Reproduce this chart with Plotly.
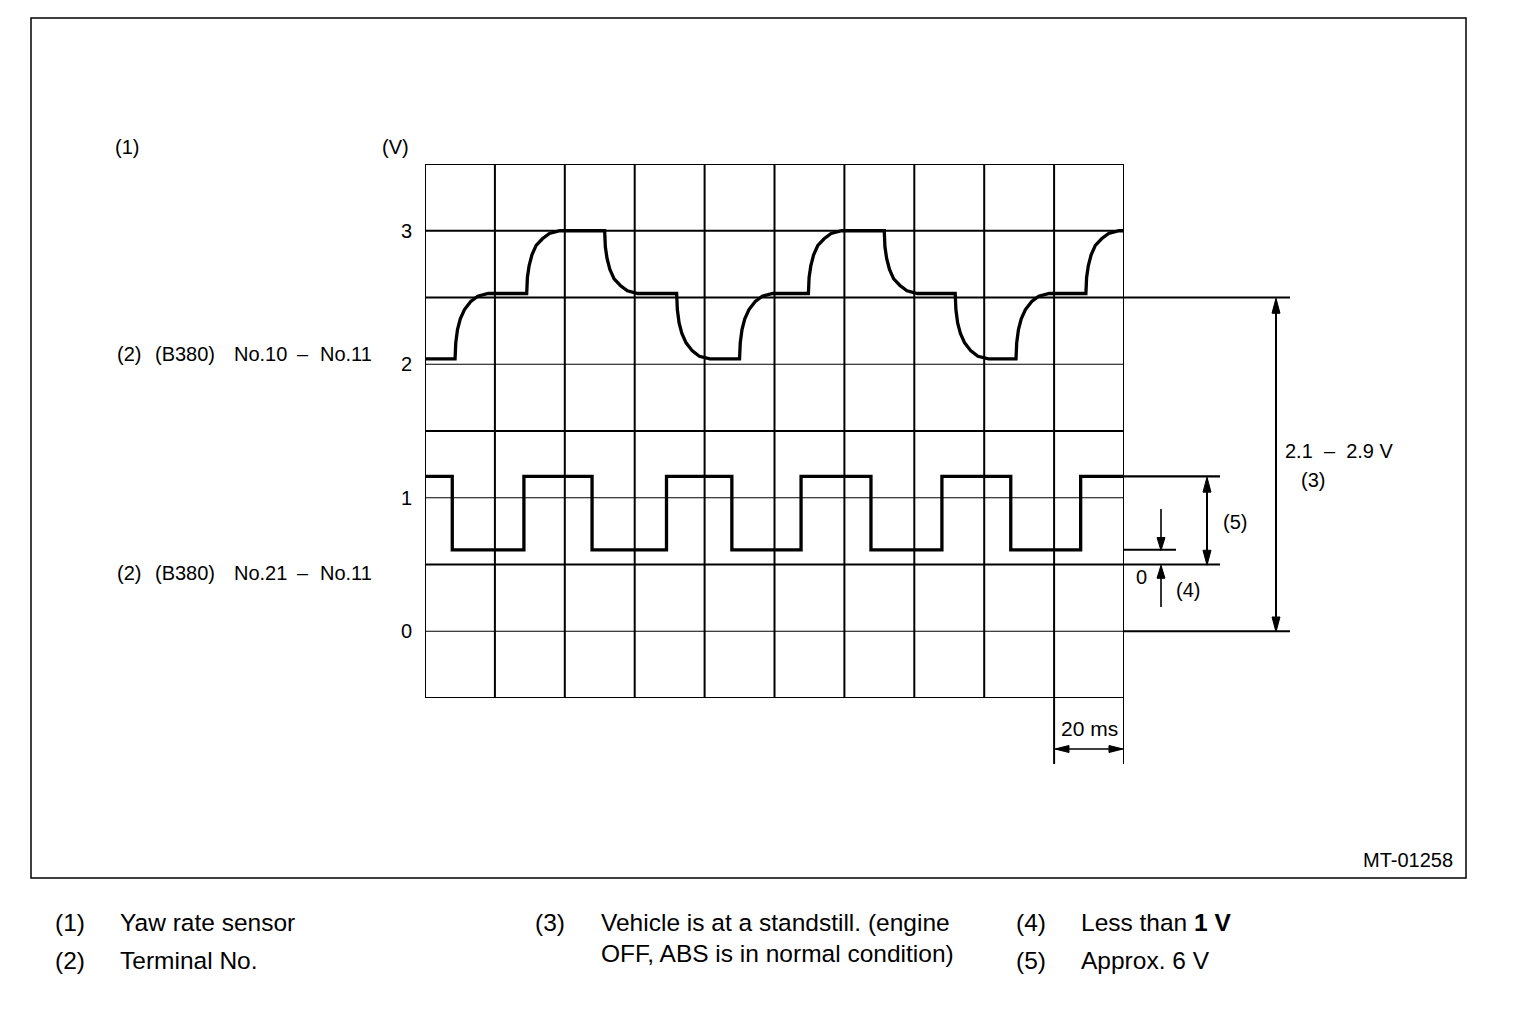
import plotly.graph_objects as go

# ---------------- data ----------------
# time axis: 20 ms per division, 10 divisions
x_ticks = [0, 20, 40, 60, 80, 100, 120, 140, 160, 180, 200]
y_grid = [-0.5, 0, 0.5, 1, 1.5, 2, 2.5, 3, 3.5]
y_thin = [0, 1, 2]
y_tickvals = [0, 1, 2, 3]
y_ticktext = ["0", "1", "2", "3"]

# (B380) No.10 - No.11 waveform (ms, V)
upper_t = [0, 8.6, 8.8, 9.3, 10.1, 11.3, 13.1, 15.1, 18.1,
           29.1, 29.3, 29.8, 30.6, 31.8, 33.6, 35.6, 38.6,
           51.4, 51.6, 52.1, 52.9, 54.1, 55.9, 57.9, 60.9,
           72.0, 72.2, 72.7, 73.5, 74.7, 76.5, 78.5, 81.5,
           90.0, 90.2, 90.7, 91.5, 92.7, 94.5, 96.5, 99.5,
           109.7, 109.9, 110.4, 111.2, 112.4, 114.2, 116.2, 119.2,
           131.4, 131.6, 132.1, 132.9, 134.1, 135.9, 137.9, 140.9,
           151.7, 151.9, 152.4, 153.2, 154.4, 156.2, 158.2, 161.2,
           169.1, 169.3, 169.8, 170.6, 171.8, 173.6, 175.6, 178.6,
           189.1, 189.3, 189.8, 190.6, 191.8, 193.6, 195.6, 198.6, 200]
upper_v = [2.04, 2.04, 2.16, 2.26, 2.34, 2.41, 2.47, 2.51, 2.53,
           2.53, 2.65, 2.74, 2.82, 2.89, 2.94, 2.98, 3.00,
           3.00, 2.88, 2.79, 2.71, 2.64, 2.59, 2.55, 2.53,
           2.53, 2.41, 2.31, 2.23, 2.16, 2.10, 2.06, 2.04,
           2.04, 2.16, 2.26, 2.34, 2.41, 2.47, 2.51, 2.53,
           2.53, 2.65, 2.74, 2.82, 2.89, 2.94, 2.98, 3.00,
           3.00, 2.88, 2.79, 2.71, 2.64, 2.59, 2.55, 2.53,
           2.53, 2.41, 2.31, 2.23, 2.16, 2.10, 2.06, 2.04,
           2.04, 2.16, 2.26, 2.34, 2.41, 2.47, 2.51, 2.53,
           2.53, 2.65, 2.74, 2.82, 2.89, 2.94, 2.98, 3.00, 3.00]

# (B380) No.21 - No.11 square wave (ms, V)
lower_t = [0, 7.8, 28.3, 47.8, 69.1, 87.8, 107.6, 127.6, 147.9, 167.6, 187.6, 200]
lower_v = [1.16, 0.61, 1.16, 0.61, 1.16, 0.61, 1.16, 0.61, 1.16, 0.61, 1.16, 1.16]

level_high = 1.16
level_low = 0.61
level_ref = 0.5
range_top = 2.5
range_bot = 0.0

# ---------------- layout helpers (reference pixel -> paper) ----------------
FW, FH, OFF = 1520, 1016, 8


def px(x):
    return (x - OFF) / FW


def py(y):
    return 1 - (y - OFF) / FH


FONT = "Liberation Sans, Arial, Helvetica, sans-serif"
BLACK = "#000000"
NB = "\u00a0"

fig = go.Figure()
fig.add_trace(go.Scatter(x=upper_t, y=upper_v, mode="lines",
                         line=dict(color=BLACK, width=3.3, shape="linear"),
                         hoverinfo="skip", showlegend=False))
fig.add_trace(go.Scatter(x=lower_t, y=lower_v, mode="lines",
                         line=dict(color=BLACK, width=3.3, shape="hv"),
                         hoverinfo="skip", showlegend=False))

shapes = []
# grid
for xv in x_ticks:
    shapes.append(dict(type="line", xref="x", yref="y", x0=xv, x1=xv,
                       y0=y_grid[0], y1=y_grid[-1], line=dict(color=BLACK, width=2)))
for yv in y_grid:
    w = 1.2 if yv in y_thin else 2.2
    shapes.append(dict(type="line", xref="x", yref="y", x0=x_ticks[0], x1=x_ticks[-1],
                       y0=yv, y1=yv, line=dict(color=BLACK, width=w)))


# extension lines on the right
def hext(yv, x1px, w=2):
    shapes.append(dict(type="line", xref="paper", yref="y", x0=px(1124), x1=px(x1px),
                       y0=yv, y1=yv, line=dict(color=BLACK, width=w)))


hext(range_top, 1290)
hext(range_bot, 1290)
hext(level_ref, 1220)
hext(level_high, 1220, 2.4)
hext(level_low, 1176)

# outer frame
shapes.append(dict(type="rect", xref="paper", yref="paper", x0=px(31), x1=px(1466),
                   y0=py(878), y1=py(18), line=dict(color=BLACK, width=1.5)))

# 20 ms dimension lines
for xv in [x_ticks[-2], x_ticks[-1]]:
    shapes.append(dict(type="line", xref="x", yref="paper", x0=xv, x1=xv,
                       y0=py(764), y1=py(698), line=dict(color=BLACK, width=2)))


def seg(x0, y0, x1, y1, w=1.6):
    shapes.append(dict(type="line", xref="paper", yref="paper", x0=px(x0), x1=px(x1),
                       y0=py(y0), y1=py(y1), line=dict(color=BLACK, width=w)))


def head(x, y, d, L=15, hw=4):
    if d == "up":
        pts = [(x, y), (x - hw, y + L), (x + hw, y + L)]
    elif d == "down":
        pts = [(x, y), (x - hw, y - L), (x + hw, y - L)]
    elif d == "left":
        pts = [(x, y), (x + L, y - hw), (x + L, y + hw)]
    else:
        pts = [(x, y), (x - L, y - hw), (x - L, y + hw)]
    path = "M" + " L".join(f"{px(a):.6f},{py(b):.6f}" for a, b in pts) + " Z"
    shapes.append(dict(type="path", xref="paper", yref="paper", path=path,
                       fillcolor=BLACK, line=dict(color=BLACK, width=1)))


def vy(v):
    # reference pixel row of a voltage level
    return 632 - v * 133.5


# (3) arrow 0 .. 2.5 V
seg(1276, vy(range_top) + 2, 1276, vy(range_bot) - 2, 2)
head(1276, vy(range_top), "up")
head(1276, vy(range_bot), "down")
# (5) arrow
seg(1207, vy(level_high) + 2, 1207, vy(level_ref) - 2, 2)
head(1207, vy(level_high), "up")
head(1207, vy(level_ref), "down")
# (4) arrows
seg(1161, 509, 1161, vy(level_low) - 2, 1.6)
head(1161, vy(level_low), "down", L=13)
seg(1161, 607, 1161, vy(level_ref) + 2, 1.6)
head(1161, vy(level_ref), "up", L=13)
# 20 ms arrow
seg(1056, 749, 1122, 749, 1.6)
head(1055, 749, "left", L=14, hw=3.5)
head(1123, 749, "right", L=14, hw=3.5)

ann = []


def text(s, x, y, size=20, anchor="left"):
    ann.append(dict(text=s, xref="paper", yref="paper", x=px(x), y=py(y),
                    xanchor=anchor, yanchor="middle", showarrow=False,
                    font=dict(family=FONT, size=size, color=BLACK)))


# chart labels
text("(1)", 127, 147, anchor="center")
text("(V)", 395, 147, anchor="center")
for yy, name in [(354, "No.10"), (573, "No.21")]:
    text("(2)", 115, yy)
    text("(B380)", 153, yy)
    text(name, 232, yy)
    text("–", 303, yy, anchor="center")
    text("No.11", 318, yy)
text("20 ms", 1089, 728, size=21, anchor="center")
text("MT-01258", 1455, 860, anchor="right")
text("0", 1141, 577, anchor="center")
text("(4)", 1188, 590, anchor="center")
text("(5)", 1235, 522, anchor="center")
text("2.1" + NB * 2 + "–" + NB * 2 + "2.9" + NB + "V", 1283, 451)
text("(3)", 1299, 480)

# legend below
LS = 24.5
text("(1)", 53, 922, LS)
text("Yaw rate sensor", 118, 922, LS)
text("(2)", 53, 960, LS)
text("Terminal No.", 118, 960, LS)
text("(3)", 533, 922, LS)
text("Vehicle is at a standstill. (engine", 599, 922, LS)
text("OFF, ABS is in normal condition)", 599, 953, LS)
text("(4)", 1014, 922, LS)
text("Less than <b>1 V</b>", 1079, 922, LS)
text("(5)", 1014, 960, LS)
text("Approx. 6 V", 1079, 960, LS)

fig.update_layout(
    width=FW, height=FH,
    margin=dict(l=0, r=0, t=0, b=0),
    paper_bgcolor="white", plot_bgcolor="white",
    shapes=shapes, annotations=ann,
    xaxis=dict(range=[x_ticks[0], x_ticks[-1]], domain=[px(425), px(1124)],
               showgrid=False, zeroline=False, showticklabels=False, showline=False,
               ticks="", fixedrange=True),
    yaxis=dict(range=[y_grid[0], y_grid[-1]], domain=[py(698), py(164)],
               showgrid=False, zeroline=False, showline=False,
               tickvals=y_tickvals, ticktext=y_ticktext, ticks="",
               ticklabelstandoff=12,
               tickfont=dict(family=FONT, size=20, color=BLACK), fixedrange=True),
    showlegend=False,
)

fig.write_html("out.html", config={"displayModeBar": False})
